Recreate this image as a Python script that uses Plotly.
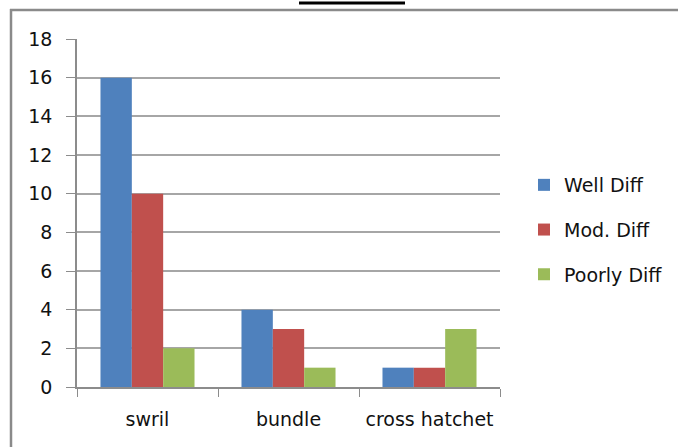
import plotly.graph_objects as go

categories = ["swril", "bundle", "cross hatchet"]
series_names = ["Well Diff", "Mod. Diff", "Poorly Diff"]
well_diff = [16, 4, 1]
mod_diff = [10, 3, 1]
poorly_diff = [2, 1, 3]
colors = ["#4F81BD", "#C0504D", "#9BBB59"]
y_ticks = [0, 2, 4, 6, 8, 10, 12, 14, 16, 18]

W, H = 678, 447
L, R, T, B = 77, 178, 39, 60
pw, ph = W - L - R, H - T - B

def px(x):
    return (x - L) / pw

def py(y):
    return (H - B - y) / ph

fig = go.Figure()
for i, (name, vals) in enumerate(zip(series_names, [well_diff, mod_diff, poorly_diff])):
    fig.add_trace(go.Bar(x=categories, y=vals, name=name, marker_color=colors[i],
                         marker_line_width=0, legendgroup=name))

font = dict(family="DejaVu Sans, sans-serif", size=19, color="#111111")
fig.update_layout(
    width=W, height=H,
    margin=dict(l=L, r=R, t=T, b=B, autoexpand=False),
    paper_bgcolor="white", plot_bgcolor="white",
    barmode="group", bargap=0.333, bargroupgap=0,
    font=font,
    showlegend=True,
    legend=dict(xref="container", yref="container",
                x=524 / W, y=1 - 166 / H, xanchor="left", yanchor="top",
                font=dict(family="DejaVu Sans, sans-serif", size=19, color="#111111"),
                tracegroupgap=17, traceorder="grouped", itemwidth=30,
                bgcolor="rgba(0,0,0,0)"),
    xaxis=dict(showline=True, linecolor="#8c8c8c", linewidth=1.5,
               ticks="outside", tickson="boundaries", ticklen=8, tickcolor="#8c8c8c",
               showgrid=False, tickfont=font, ticklabelstandoff=14),
    yaxis=dict(range=[0, 18], tickvals=y_ticks, showline=True, linecolor="#8c8c8c",
               linewidth=1.5, ticks="outside", ticklen=9, tickcolor="#8c8c8c",
               showgrid=True, gridcolor="#a6a6a6", gridwidth=1.5, zeroline=False,
               tickfont=font, ticklabelstandoff=10),
    shapes=[
        dict(type="line", xref="paper", yref="paper", x0=px(11), x1=px(11),
             y0=py(9), y1=py(460), line=dict(color="#8a8a8a", width=2.5)),
        dict(type="line", xref="paper", yref="paper", x0=px(10), x1=px(690),
             y0=py(10), y1=py(10), line=dict(color="#8a8a8a", width=2.5)),
        dict(type="line", xref="paper", yref="paper", x0=px(299), x1=px(405),
             y0=py(3), y1=py(3), line=dict(color="black", width=3)),
    ],
)
fig.write_html("out.html")
